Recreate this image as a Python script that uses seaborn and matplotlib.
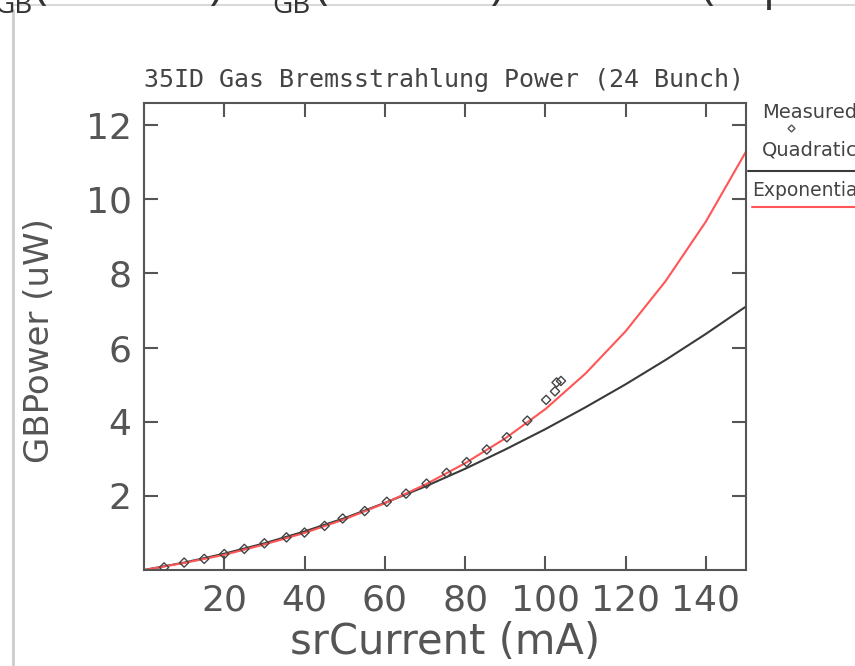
import matplotlib
matplotlib.use("Agg")
import matplotlib.pyplot as plt
import matplotlib.transforms as mtransforms
from matplotlib.lines import Line2D
import seaborn as sns
import pandas as pd

# ---------------- data ----------------
meas_current = [5, 10, 15, 20, 25, 30, 35.5, 40, 45, 49.5, 55, 60.5, 65.3, 70.4,
                75.4, 80.4, 85.4, 90.4, 95.5, 100.2, 102.4, 102.8, 103.9]
meas_power = [0.07, 0.20, 0.30, 0.43, 0.57, 0.72, 0.88, 1.01, 1.19, 1.39, 1.59, 1.84,
              2.06, 2.33, 2.62, 2.91, 3.25, 3.58, 4.03, 4.59, 4.82, 5.06, 5.10]

fit_current = [0, 10, 20, 30, 40, 50, 60, 70, 80, 90, 100, 110, 120, 130, 140, 150]
quad_power = [0, 0.20, 0.44, 0.72, 1.04, 1.40, 1.81, 2.25, 2.73, 3.25, 3.80, 4.39,
              5.01, 5.67, 6.37, 7.11]
expo_power = [0, 0.19, 0.41, 0.69, 1.00, 1.37, 1.80, 2.30, 2.88, 3.55, 4.34, 5.30,
              6.44, 7.80, 9.40, 11.29]

x_ticks = [20, 40, 60, 80, 100, 120, 140]
y_ticks = [2, 4, 6, 8, 10, 12]

title = "35ID Gas Bremsstrahlung Power (24 Bunch)"
x_label = "srCurrent (mA)"
y_label = "GBPower (uW)"
legend_labels = ["Measured", "Quadratic", "Exponential"]

# ---------------- figure ----------------
W, H = 855, 666
sns.set_theme(style="white")
plt.rcParams["font.family"] = ["DejaVu Sans"]

fig = plt.figure(figsize=(W / 100, H / 100), dpi=100)
fig.patch.set_facecolor("white")
px = mtransforms.IdentityTransform()

# page decoration (screenshot borders)
fig.add_artist(Line2D([13, W], [H - 5, H - 5], transform=px, color="#d9d9d9", lw=1.5, zorder=0))
fig.add_artist(Line2D([13, 13], [0, H - 10], transform=px, color="#cccccc", lw=2, zorder=0))

# page heading, mostly cut off at the top
hdr_col = "#333333"
hfont = ["Open Sans", "DejaVu Sans"]
fig.text(-6, 653, "GB", transform=px, fontsize=20, color=hdr_col, family=hfont, va="baseline")
fig.text(34, 667.5, "(150 mA)/P", transform=px, fontsize=33, color=hdr_col, family=hfont, va="baseline")
fig.text(272, 653, "GB", transform=px, fontsize=20, color=hdr_col, family=hfont, va="baseline")
fig.text(315, 667.5, "(100 mA) = 122%", transform=px, fontsize=33, color=hdr_col, family=hfont, va="baseline")
fig.text(700, 667.5, "(exponential)", transform=px, fontsize=33, color=hdr_col, family=hfont, va="baseline")

# axes
left, right, bottom, top = 144, 746, 570, 103
ax = fig.add_axes([left / W, 1 - bottom / H, (right - left) / W, (bottom - top) / H])

fit_df = pd.DataFrame({
    "srCurrent": fit_current * 2,
    "GBPower": quad_power + expo_power,
    "fit": ["Quadratic"] * len(fit_current) + ["Exponential"] * len(fit_current),
})
meas_df = pd.DataFrame({"srCurrent": meas_current, "GBPower": meas_power})

sns.lineplot(data=fit_df, x="srCurrent", y="GBPower", hue="fit",
             palette={"Quadratic": "#3a3a3a", "Exponential": "#ff5555"},
             linewidth=1.5, legend=False, ax=ax, sort=False, estimator=None)
sns.scatterplot(data=meas_df, x="srCurrent", y="GBPower", marker="D", s=22,
                color="#444444", linewidth=1.0, legend=False, ax=ax, zorder=3)
for coll in ax.collections:
    coll.set_facecolor("none")
    coll.set_edgecolor("#444444")

ax.set_xlim(0, 150)
ax.set_ylim(0, 12.6)
ax.set_xticks(x_ticks)
ax.set_yticks(y_ticks)
ax.set_xlabel("")
ax.set_ylabel("")
for s in ax.spines.values():
    s.set_color("#555555")
    s.set_linewidth(1.5)
    s.set_visible(True)
ax.tick_params(direction="in", length=10, width=1.5, color="#555555",
               top=True, right=True, bottom=True, left=True,
               labelsize=26, labelcolor="#555555")
ax.tick_params(axis="x", pad=10)
ax.tick_params(axis="y", pad=9)

txt_col = "#555555"
fig.text(444 / W, 1 - 80 / H, title, ha="center", va="center", fontsize=18,
         family=["DejaVu Sans Mono"], color="#444444")
fig.text(445 / W, 1 - 642 / H, x_label, ha="center", va="center", fontsize=30, color=txt_col)
fig.text(40 / W, 1 - 341 / H, y_label, ha="center", va="center", rotation=90, fontsize=24.5, color=txt_col)

# legend drawn outside the axes, on the right
fig.text(762, H - 112, legend_labels[0], transform=px, ha="left", va="center", fontsize=14, color="#444444")
fig.add_artist(Line2D([791], [H - 128], transform=px, marker="D", markersize=3.5,
                      markerfacecolor="none", markeredgecolor="#555555", lw=0))
fig.text(762, H - 150, legend_labels[1], transform=px, ha="left", va="center", fontsize=14, color="#444444")
fig.add_artist(Line2D([748, W], [H - 171, H - 171], transform=px, color="#3a3a3a", lw=1.5))
fig.text(752, H - 190, legend_labels[2], transform=px, ha="left", va="center", fontsize=13.5, color="#444444")
fig.add_artist(Line2D([752, W], [H - 207, H - 207], transform=px, color="#ff5555", lw=1.5))

fig.savefig("out.png", dpi=100)
